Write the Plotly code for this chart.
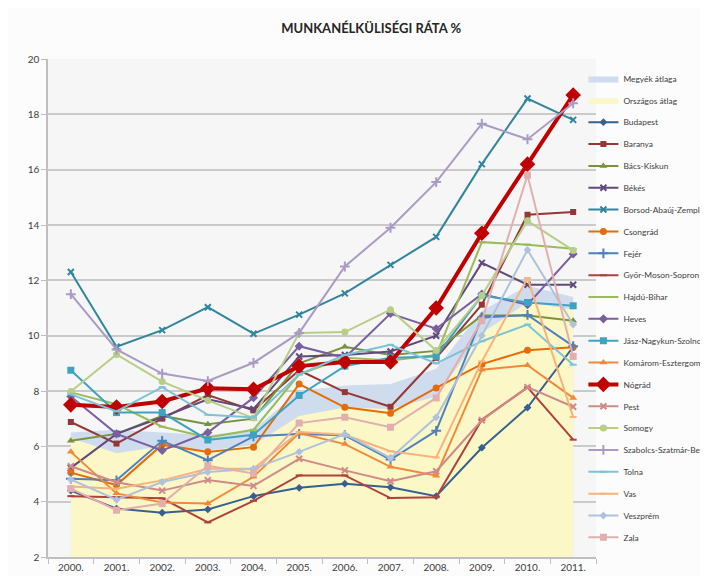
import plotly.graph_objects as go

years = ["2000.", "2001.", "2002.", "2003.", "2004.", "2005.", "2006.", "2007.", "2008.", "2009.", "2010.", "2011."]

megyek_atlaga = [6.5, 6.6, 6.5, 6.4, 6.6, 8.0, 8.2, 8.25, 8.8, 10.9, 11.8, 11.4]
orszagos_atlag = [6.3, 5.75, 6.0, 5.85, 6.05, 7.1, 7.4, 7.35, 7.8, 10.1, 11.2, 10.95]

budapest = [4.4, 3.75, 3.6, 3.72, 4.2, 4.5, 4.65, 4.52, 4.2, 5.95, 7.4, 9.6]
baranya = [6.88, 6.1, 7.0, 7.85, 7.3, 8.75, 7.96, 7.43, 9.2, 11.12, 14.37, 14.47]
bacs_kiskun = [6.2, 6.45, 7.1, 6.8, 7.0, 9.0, 9.6, 9.3, 9.45, 10.73, 10.73, 10.54]
bekes = [5.22, 6.45, 7.05, 7.7, 7.35, 9.25, 9.3, 9.43, 10.0, 12.63, 11.84, 11.84]
borsod = [12.3, 9.6, 10.2, 11.03, 10.07, 10.76, 11.53, 12.56, 13.57, 16.2, 18.57, 17.8]
csongrad = [5.05, 4.6, 6.06, 5.8, 5.97, 8.25, 7.41, 7.2, 8.11, 8.97, 9.47, 9.58]
fejer = [4.83, 4.77, 6.2, 5.5, 6.36, 6.45, 6.4, 5.52, 6.56, 10.66, 10.75, 9.62]
gyor = [4.2, 4.15, 4.12, 3.25, 4.03, 4.95, 4.95, 4.13, 4.16, 6.96, 8.13, 6.24]
hajdu_bihar = [7.95, 7.52, 6.71, 6.32, 6.6, 8.6, 9.2, 9.1, 9.3, 13.38, 13.29, 13.14]
heves = [7.8, 6.45, 5.85, 6.5, 7.76, 9.62, 9.2, 10.8, 10.25, 11.5, 11.12, 12.95]
jasz = [8.75, 7.22, 7.22, 6.23, 6.42, 7.84, 8.9, 9.2, 9.25, 11.45, 11.2, 11.08]
komarom = [5.8, 4.3, 3.97, 3.93, 4.9, 6.48, 6.08, 5.26, 4.94, 8.77, 8.93, 7.75]
nograd = [7.5, 7.42, 7.62, 8.1, 8.06, 8.9, 9.05, 9.05, 11.0, 13.7, 16.2, 18.7]
pest = [5.28, 4.7, 4.4, 4.78, 4.57, 5.55, 5.13, 4.74, 5.1, 6.94, 8.14, 7.43]
somogy = [7.98, 9.32, 8.34, 7.66, 7.02, 10.1, 10.13, 10.94, 9.46, 11.45, 14.15, 13.08]
szabolcs = [11.5, 9.5, 8.63, 8.36, 9.02, 10.1, 12.5, 13.9, 15.55, 17.66, 17.1, 18.4]
tolna = [7.88, 7.26, 8.14, 7.14, 7.04, 8.6, 9.3, 9.67, 9.0, 9.8, 10.4, 8.95]
vas = [4.55, 4.47, 4.77, 5.19, 5.19, 6.52, 6.42, 5.82, 5.6, 9.07, 12.08, 7.06]
veszprem = [4.8, 4.07, 4.71, 5.07, 5.19, 5.8, 6.44, 5.58, 7.05, 10.0, 13.1, 10.4]
zala = [4.47, 3.69, 3.93, 5.3, 5.02, 6.84, 7.05, 6.69, 7.75, 10.54, 15.8, 9.25]

series = [
    ("Budapest", budapest, "#376092", "diamond", 6, 2),
    ("Baranya", baranya, "#953735", "square", 6, 2),
    ("Bács-Kiskun", bacs_kiskun, "#77933C", "triangle-up", 7, 2),
    ("Békés", bekes, "#604A7B", "x-thin-open", 6, 2),
    ("Borsod-Abaúj-Zemplén", borsod, "#31859C", "x-thin-open", 6, 2),
    ("Csongrád", csongrad, "#E46C0A", "circle", 7, 2),
    ("Fejér", fejer, "#4F81BD", "cross-thin-open", 7, 2),
    ("Győr-Moson-Sopron", gyor, "#B0413E", "line-ew-open", 5, 2),
    ("Hajdú-Bihar", hajdu_bihar, "#9BBB59", "line-ew-open", 5, 2),
    ("Heves", heves, "#7A5F9E", "diamond", 7, 2),
    ("Jász-Nagykun-Szolnok", jasz, "#3EA3C0", "square", 7, 2),
    ("Komárom-Esztergom", komarom, "#F08A3A", "triangle-up", 7, 2),
    ("Nógrád", nograd, "#C00000", "diamond", 12, 4),
    ("Pest", pest, "#D08A89", "x-thin-open", 6, 2),
    ("Somogy", somogy, "#B6CE86", "circle", 7, 2),
    ("Szabolcs-Szatmár-Bereg", szabolcs, "#A99BC3", "cross-thin-open", 7, 2),
    ("Tolna", tolna, "#7CC3D6", "line-ew-open", 5, 2),
    ("Vas", vas, "#F9B27A", "line-ew-open", 5, 2),
    ("Veszprém", veszprem, "#AFC2DD", "diamond", 6, 2),
    ("Zala", zala, "#E2AFAE", "square", 7, 2),
]

xs = list(range(len(years)))

fig = go.Figure()
fig.add_trace(go.Scatter(x=xs, y=megyek_atlaga, name="Megyék átlaga", mode="lines",
                         line=dict(width=0, color="#C9D7EC"), fill="tozeroy",
                         fillcolor="#CFDCEE", legendgroup="g0"))
fig.add_trace(go.Scatter(x=xs, y=orszagos_atlag, name="Országos átlag", mode="lines",
                         line=dict(width=0, color="#FBF6C4"), fill="tozeroy",
                         fillcolor="#FBF7C6", legendgroup="g1"))

for i, (name, vals, color, sym, size, lw) in enumerate(series):
    fig.add_trace(go.Scatter(
        x=xs, y=vals, name=name, mode="lines+markers",
        line=dict(color=color, width=lw),
        marker=dict(symbol=sym, size=size, color=color,
                    line=dict(color=color, width=2 if "open" in sym else 0)),
        legendgroup="g%d" % (i + 2),
    ))

fig.update_layout(
    width=708, height=576,
    margin=dict(l=40, r=120, t=51, b=27, autoexpand=False),
    paper_bgcolor="#FCFCFC",
    plot_bgcolor="#F6F6F6",
    font=dict(family="Lato, Carlito, sans-serif", size=10, color="#404040"),
    title=dict(text="<b>MUNKANÉLKÜLISÉGI RÁTA %</b>", x=0.513, xanchor="center",
               y=0.965, yanchor="middle",
               font=dict(family="Lato, sans-serif", size=13, color="#262626")),
    showlegend=True,
    legend=dict(x=0.977, xanchor="left", y=0.99, yanchor="top",
                font=dict(family="Liberation Sans Narrow, Lato, sans-serif", size=8.4, color="#404040"),
                tracegroupgap=2.85, bgcolor="rgba(0,0,0,0)",
                itemwidth=30),
    xaxis=dict(
        range=[-0.5, 11.5], tickmode="array", tickvals=xs, ticktext=years,
        ticks="", showgrid=False, zeroline=False,
        showline=True, linecolor="#BFBFBF", linewidth=1.5,
        minor=dict(tick0=-0.5, dtick=1, ticks="outside", ticklen=5, tickcolor="#BFBFBF", showgrid=False),
        tickfont=dict(size=10, color="#404040"),
    ),
    yaxis=dict(
        range=[2, 20], dtick=2, tick0=2, showgrid=True, gridcolor="#CACACA", gridwidth=1.5,
        zeroline=False, showline=True, linecolor="#BFBFBF", linewidth=1.5,
        ticks="outside", ticklen=5, tickcolor="#BFBFBF",
        tickfont=dict(size=10, color="#404040"),
    ),
)

fig.write_html("out.html")
